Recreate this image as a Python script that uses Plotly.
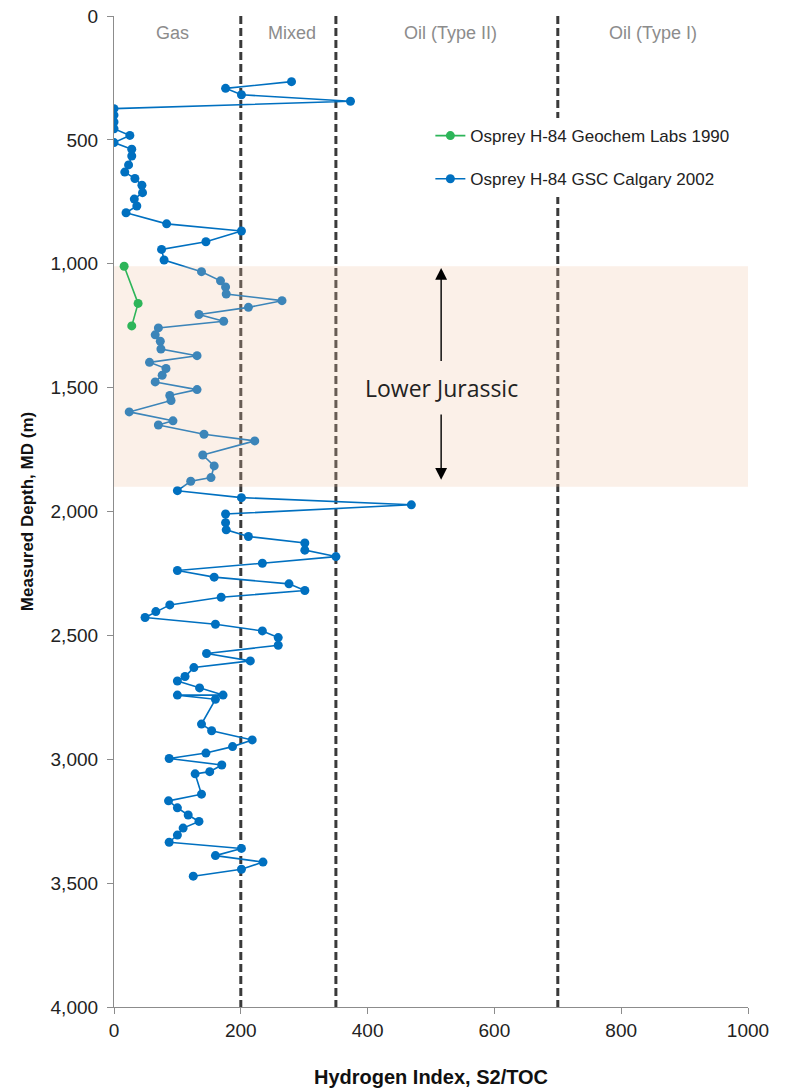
import plotly.graph_objects as go

# ---- data ----
gsc_hi = [280, 176, 201, 373, 0, 0, 0, 0, 25, 0, 28, 28, 23, 17, 33, 44, 45, 32, 36, 19,
          83, 201, 145, 75, 79, 138, 168, 176, 177, 265, 212, 134, 173, 70, 65, 73, 74, 131,
          56, 82, 76, 65, 131, 88, 90, 24, 93, 70, 142, 222, 140, 158, 153, 121, 100, 201,
          469, 176, 176, 177, 212, 301, 301, 350, 234, 100, 158, 276, 301, 169, 88, 66, 49,
          160, 234, 259, 259, 146, 215, 126, 112, 100, 135, 172, 100, 160, 138, 154, 218,
          187, 145, 87, 170, 151, 128, 138, 86, 100, 117, 134, 109, 100, 87, 201, 160, 235,
          201, 125]
gsc_depth = [265, 292, 318, 344, 374, 400, 428, 455, 482, 511, 538, 565, 601, 630, 656, 683,
             713, 739, 767, 794, 839, 868, 911, 942, 985, 1032, 1069, 1094, 1122, 1149, 1176,
             1205, 1232, 1259, 1287, 1313, 1344, 1371, 1398, 1423, 1450, 1477, 1508, 1532,
             1552, 1598, 1634, 1651, 1688, 1715, 1772, 1816, 1863, 1878, 1916, 1944, 1973,
             2010, 2045, 2074, 2101, 2127, 2156, 2182, 2209, 2238, 2265, 2292, 2319, 2346,
             2377, 2404, 2428, 2455, 2482, 2509, 2540, 2573, 2603, 2630, 2666, 2684, 2712,
             2741, 2741, 2758, 2858, 2885, 2922, 2949, 2975, 2997, 3023, 3050, 3059, 3141,
             3168, 3196, 3225, 3251, 3278, 3306, 3335, 3360, 3389, 3415, 3444, 3472]

geochem_hi = [16, 38, 28]
geochem_depth = [1010, 1160, 1251]

zone_bounds = [200, 350, 700]
zone_labels = ["Gas", "Mixed", "Oil (Type II)", "Oil (Type I)"]
zone_label_x = [93, 280, 530, 850]

jurassic_top, jurassic_base = 1010, 1900

x_ticks = [0, 200, 400, 600, 800, 1000]
y_ticks = [0, 500, 1000, 1500, 2000, 2500, 3000, 3500, 4000]

BLUE = "#0070C0"
GREEN = "#2DB559"
FONT = "Liberation Sans, Arial, sans-serif"

fig = go.Figure()

fig.add_trace(go.Scatter(
    x=gsc_hi, y=gsc_depth, mode="lines+markers",
    name="Osprey H-84 GSC Calgary 2002",
    line=dict(color=BLUE, width=1.6),
    marker=dict(color=BLUE, size=9),
    legendgroup="b", legendrank=2,
))

# Lower Jurassic band (drawn over the blue series, semi-transparent)
fig.add_trace(go.Scatter(
    x=[0, 1000, 1000, 0, 0],
    y=[jurassic_top, jurassic_top, jurassic_base, jurassic_base, jurassic_top],
    mode="lines", fill="toself", fillcolor="rgba(240,195,163,0.25)",
    line=dict(width=0), showlegend=False, hoverinfo="skip",
))

fig.add_trace(go.Scatter(
    x=geochem_hi, y=geochem_depth, mode="lines+markers",
    name="Osprey H-84 Geochem Labs 1990",
    line=dict(color=GREEN, width=1.6),
    marker=dict(color=GREEN, size=9),
    legendgroup="g", legendrank=1,
))

for xb in zone_bounds:
    fig.add_shape(type="line", x0=xb, x1=xb, y0=0, y1=4000, xref="x", yref="y",
                  line=dict(color="#3a3a3a", width=3, dash="8px,4px"), layer="below")

for lbl, lx in zip(zone_labels, zone_label_x):
    fig.add_annotation(x=lx, y=69, text=lbl, showarrow=False,
                       font=dict(family=FONT, size=18, color="#8c8c8c"))

# Lower Jurassic label and arrows
fig.add_annotation(x=516, y=1501, text="Lower Jurassic", showarrow=False,
                   font=dict(family="Open Sans, sans-serif", size=23, color="#222222"))
fig.add_annotation(x=516, y=1017, ax=516, ay=1399, xref="x", yref="y", axref="x", ayref="y",
                   text="", showarrow=True, arrowhead=2, arrowsize=1.7, arrowwidth=1.4,
                   arrowcolor="#000000")
fig.add_annotation(x=516, y=1872, ax=516, ay=1602, xref="x", yref="y", axref="x", ayref="y",
                   text="", showarrow=True, arrowhead=2, arrowsize=1.7, arrowwidth=1.4,
                   arrowcolor="#000000")

fig.update_layout(
    width=785, height=1091,
    margin=dict(l=114, r=37, t=16, b=84, autoexpand=False),
    paper_bgcolor="white", plot_bgcolor="white",
    font=dict(family=FONT, color="#222222"),
    showlegend=True,
    legend=dict(x=0.499, y=0.897, xanchor="left", yanchor="top",
                bgcolor="white", borderwidth=0,
                font=dict(family=FONT, size=17, color="#222222"),
                tracegroupgap=18, traceorder="grouped"),
)

fig.update_xaxes(range=[0, 1000], tickvals=x_ticks, showgrid=False, zeroline=False,
                 automargin=False,
                 showline=True, linecolor="#8c8c8c", linewidth=1.2,
                 ticks="outside", ticklen=6, tickcolor="#8c8c8c",
                 tickfont=dict(family=FONT, size=19, color="#222222"),
                 title=dict(text="<b>Hydrogen Index, S2/TOC</b>", standoff=30,
                            font=dict(family=FONT, size=20, color="#111111")))
fig.update_yaxes(range=[4000, 0], tickvals=y_ticks, tickformat=",", showgrid=False,
                 automargin=False, ticklabelstandoff=5,
                 zeroline=False, showline=True, linecolor="#8c8c8c", linewidth=1.2,
                 ticks="outside", ticklen=6, tickcolor="#8c8c8c",
                 tickfont=dict(family=FONT, size=19, color="#222222"),
                 title=dict(text="<b>Measured Depth, MD (m)</b>", standoff=12,
                            font=dict(family=FONT, size=17, color="#111111")))

fig.write_html("out.html", config={"displayModeBar": False},
               post_script="document.body.style.margin='0';")
